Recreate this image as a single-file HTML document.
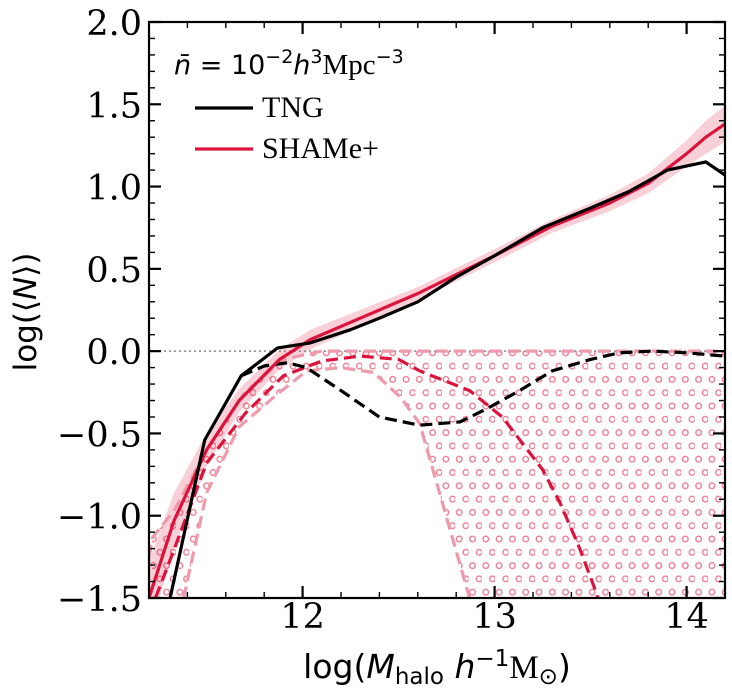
<!DOCTYPE html>
<html><head><meta charset="utf-8"><style>
html,body{margin:0;padding:0;background:#fff;}
svg{display:block;}
</style></head><body>
<svg id="chart" width="732" height="698" viewBox="0 0 732 698" xmlns="http://www.w3.org/2000/svg" style="font-family:'DejaVu Sans','Liberation Sans',sans-serif">
<defs>
<pattern id="circ" patternUnits="userSpaceOnUse" x="3" y="3" width="13.3" height="26.6">
<circle cx="4" cy="4" r="2.8" fill="none" stroke="#ec7d92" stroke-width="1.4"/>
<circle cx="10.65" cy="17.3" r="2.8" fill="none" stroke="#ec7d92" stroke-width="1.4"/>
</pattern>
<clipPath id="clip"><rect x="149" y="22" width="576" height="576"/></clipPath>
</defs>
<g id="plot" clip-path="url(#clip)"></g>
<g id="axes"></g>
<text x="174" y="74" font-size="27"><tspan font-style="italic">n̄</tspan> = 10<tspan dy="-11" font-size="19">−2</tspan><tspan dy="11" font-style="italic">h</tspan><tspan dy="-11" font-size="19">3</tspan><tspan dy="11" style="font-family:'Liberation Serif',serif" font-size="29">Mpc</tspan><tspan dy="-11" font-size="19">−3</tspan></text>
<line x1="195" y1="108" x2="253" y2="108" stroke="#000" stroke-width="3.2"/>
<text x="262" y="117" font-size="30" style="font-family:'Liberation Serif',serif">TNG</text>
<line x1="195" y1="149" x2="253" y2="149" stroke="#dc143c" stroke-width="3.2"/>
<text x="262" y="158" font-size="30" style="font-family:'Liberation Serif',serif">SHAMe+</text>
<text x="437" y="678" font-size="33" text-anchor="middle">log(<tspan font-style="italic">M</tspan><tspan font-size="23" dy="6">halo</tspan><tspan dy="-6"> </tspan><tspan font-style="italic">h</tspan><tspan font-size="23" dy="-12">−1</tspan><tspan dy="12" style="font-family:'Liberation Serif',serif">M</tspan><tspan font-size="23" dy="6">⊙</tspan><tspan dy="-6">)</tspan></text>
<text transform="translate(36,312) rotate(-90)" font-size="31" text-anchor="middle">log(⟨<tspan font-style="italic">N</tspan>⟩)</text>
</svg>
<script>
const tngX=[11.31,11.49,11.68,11.87,12.04,12.25,12.4,12.6,12.8,13.0,13.25,13.5,13.7,13.9,14.1,14.2];
const tngY=[-1.5,-0.54,-0.15,0.02,0.05,0.13,0.2,0.3,0.45,0.58,0.75,0.87,0.97,1.1,1.15,1.07];
const shX=[11.2,11.33,11.5,11.67,11.88,12.04,12.3,12.6,13.0,13.3,13.6,13.8,14.0,14.1,14.2];
const shY=[-1.5,-1.03,-0.6,-0.3,-0.05,0.07,0.2,0.35,0.58,0.76,0.9,1.02,1.2,1.3,1.38];
const shErr=[0.22,0.17,0.1,0.07,0.06,0.06,0.05,0.04,0.04,0.04,0.05,0.06,0.08,0.1,0.11];
const tngCenX=[11.68,11.8,11.92,12.02,12.2,12.4,12.61,12.82,12.96,13.13,13.3,13.5,13.65,13.82,14.0,14.2];
const tngCenY=[-0.15,-0.09,-0.07,-0.1,-0.24,-0.4,-0.45,-0.43,-0.35,-0.24,-0.12,-0.05,-0.01,0,-0.01,-0.03];
const shCenX=[11.2,11.3,11.5,11.7,11.9,12.1,12.3,12.5,12.61,12.87,13.04,13.25,13.34,13.44,13.53,13.56];
const shCenY=[-1.6,-1.3,-0.68,-0.38,-0.15,-0.06,-0.03,-0.05,-0.12,-0.24,-0.4,-0.72,-0.92,-1.19,-1.47,-1.6];
const loX=[11.3,11.38,11.5,11.67,11.85,12.02,12.2,12.37,12.51,12.61,12.87,12.9];
const loY=[-1.7,-1.5,-0.86,-0.46,-0.28,-0.12,-0.1,-0.13,-0.28,-0.44,-1.5,-1.6];
const upX=[11.2,11.22,11.33,11.5,11.7,11.9,12.1,12.5,13.0,13.5,14.0,14.2];
const upY=[-1.25,-1.13,-0.97,-0.6,-0.25,-0.05,0,0,0,0,0,0];
const xTicks=[12,13,14];
const yTicks=[-1.5,-1.0,-0.5,0.0,0.5,1.0,1.5,2.0];
const yTickLabels=["−1.5","−1.0","−0.5","0.0","0.5","1.0","1.5","2.0"];

const L=149,R=725,T=22,B=598,X0=11.2,X1=14.2,Y0=-1.5,Y1=2.0;
const sx=v=>L+(v-X0)/(X1-X0)*(R-L);
const sy=v=>B-(v-Y0)/(Y1-Y0)*(B-T);
const NS="http://www.w3.org/2000/svg";
const plot=document.getElementById('plot'),axes=document.getElementById('axes');
function mk(tag,attrs,parent){const e=document.createElementNS(NS,tag);for(const k in attrs)e.setAttribute(k,attrs[k]);parent.appendChild(e);return e;}
const pts=(xs,ys)=>xs.map((x,i)=>sx(x).toFixed(1)+','+sy(ys[i]).toFixed(1));

let hp='M'+pts(upX,upY).join(' L')+' L'+sx(14.2)+','+sy(-1.6)+' L'+pts(loX,loY).reverse().join(' L')+' Z';
const hatch=mk('path',{d:hp,fill:'url(#circ)',stroke:'none'},plot);



const bu=shX.map((x,i)=>sx(x).toFixed(1)+','+sy(shY[i]+shErr[i]).toFixed(1));
const bl=shX.map((x,i)=>sx(x).toFixed(1)+','+sy(shY[i]-shErr[i]).toFixed(1)).reverse();
const band=mk('path',{d:'M'+bu.join(' L')+' L'+bl.join(' L')+' Z',fill:'rgba(220,20,60,0.2)'},plot);



const zl=mk('line',{x1:L,x2:R,y1:sy(0),y2:sy(0),stroke:'#888','stroke-width':1.5,'stroke-dasharray':'2,3'},plot);



function line(xs,ys,col,dash,w,name){const p=mk('polyline',{points:pts(xs,ys).join(' '),fill:'none',stroke:col,'stroke-width':w,'stroke-dasharray':dash,'stroke-linejoin':'round'},plot);

}
line(upX,upY,'#ef9aaa','12,6',3.2,'shame-central-upper');
line(loX,loY,'#ef9aaa','12,6',3.2,'shame-central-lower');
line(shCenX,shCenY,'#dc143c','12,6',3.2,'shame-centrals');
line(tngCenX,tngCenY,'#000','12,6',3.2,'tng-centrals');
line(shX,shY,'#dc143c','none',3.2,'shame-total');
line(tngX,tngY,'#000','none',3.2,'tng-total');

const fr=mk('rect',{x:L,y:T,width:R-L,height:B-T,fill:'none',stroke:'#000','stroke-width':2.2},axes);


for(let v=11.2;v<=14.21;v+=0.2){const x=sx(v),maj=Math.abs(v-Math.round(v))<1e-6,len=maj?12:6;
mk('line',{x1:x,x2:x,y1:B,y2:B-len,stroke:'#000','stroke-width':maj?2.2:1.4},axes);
mk('line',{x1:x,x2:x,y1:T,y2:T+len,stroke:'#000','stroke-width':maj?2.2:1.4},axes);}
xTicks.forEach(v=>{const t=mk('text',{x:sx(v),y:B+30,'font-size':35,'text-anchor':'middle',style:"font-family:'DejaVu Serif',serif"},axes);t.textContent=v;

});
for(let v=-1.5;v<=2.001;v+=0.1){const y=sy(v),maj=Math.abs(v*2-Math.round(v*2))<1e-6,len=maj?12:6;
mk('line',{x1:L,x2:L+len,y1:y,y2:y,stroke:'#000','stroke-width':maj?2.2:1.4},axes);
mk('line',{x1:R,x2:R-len,y1:y,y2:y,stroke:'#000','stroke-width':maj?2.2:1.4},axes);}
yTicks.forEach((v,i)=>{const t=mk('text',{x:L-7,y:sy(v)+13,'font-size':35,'text-anchor':'end',style:"font-family:'DejaVu Serif',serif"},axes);t.textContent=yTickLabels[i];

});
</script>
</body></html>
